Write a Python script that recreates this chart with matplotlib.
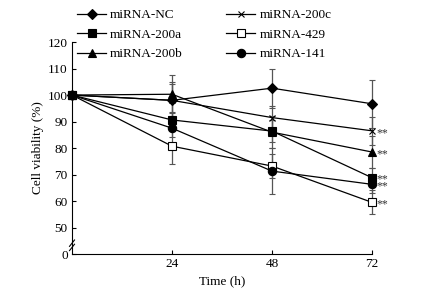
import numpy as np
import matplotlib
matplotlib.use("Agg")
import matplotlib.pyplot as plt
from matplotlib.lines import Line2D

plt.rcParams["font.family"] = ["Liberation Serif", "DejaVu Serif"]
plt.rcParams["font.size"] = 9.5

# time points (h)
time = [0, 24, 48, 72]

# mean cell viability (%) and error bars
nc     = [100, 98.0, 102.6, 96.7]
a200   = [100, 90.6, 86.4, 68.8]
b200   = [100, 100.3, 86.0, 78.5]
c200   = [100, 98.0, 91.5, 86.5]
m429   = [100, 80.7, 73.2, 59.5]
m141   = [100, 87.5, 71.3, 66.3]

nc_err   = [0, 7.0, 7.4, 9.0]
a200_err = [0, 3.0, 4.0, 3.5]
b200_err = [0, 7.1, 6.0, 6.0]
c200_err = [0, 6.0, 4.5, 5.3]
m429_err = [0, 6.6, 4.4, 4.5]
m141_err = [0, 3.5, 8.8, 3.2]

labels  = ["miRNA-NC", "miRNA-200a", "miRNA-200b", "miRNA-200c", "miRNA-429", "miRNA-141"]
series  = [nc, a200, b200, c200, m429, m141]
errs    = [nc_err, a200_err, b200_err, c200_err, m429_err, m141_err]
markers = ["D", "s", "^", "x", "s", "o"]
msizes  = [5.5, 5.5, 6, 4, 5.5, 6]
faces   = ["black", "black", "black", "black", "white", "black"]

# y ticks (axis is broken below 50)
yticks = [40, 50, 60, 70, 80, 90, 100, 110, 120]
ylabels = ["0", "50", "60", "70", "80", "90", "100", "110", "120"]
xticks = [24, 48, 72]

fig = plt.figure(figsize=(4.38, 2.92), dpi=100)
ax = fig.add_axes([0.1644, 0.130, 0.6849, 0.726])

handles = []
for i in range(len(series)):
    ax.errorbar(time, series[i], yerr=errs[i], color="black", ecolor="#555555",
                elinewidth=0.9, capsize=2, capthick=0.9, lw=0.9,
                marker=markers[i], markersize=msizes[i], markerfacecolor=faces[i],
                markeredgecolor="black", markeredgewidth=0.8,
                clip_on=False, zorder=3)
    handles.append(Line2D([], [], color="black", lw=0.9, marker=markers[i],
                          markersize=msizes[i], markerfacecolor=faces[i],
                          markeredgecolor="black", markeredgewidth=0.8, label=labels[i]))

# significance marks at 72 h (200a and 141 sit so close they share one text)
star_kw = dict(textcoords="offset points", fontsize=8.5, color="#333333",
               va="center", ha="left", annotation_clip=False)
for s in [c200, b200, m429]:
    ax.annotate("**", (time[-1], s[-1]), xytext=(3, -1.5), **star_kw)
ax.annotate("**\n**", (time[-1], (a200[-1] + m141[-1]) / 2), xytext=(3, -1.5),
            linespacing=0.45, **star_kw)

ax.set_xlim(0, 72)
ax.set_ylim(40, 120)
ax.set_xticks(xticks)
ax.set_yticks(yticks)
ax.set_yticklabels(ylabels)
ax.tick_params(direction="in", length=3, width=0.8, pad=3)
ax.spines["top"].set_visible(False)
ax.spines["right"].set_visible(False)
ax.spines["left"].set_linewidth(0.8)
ax.spines["bottom"].set_linewidth(0.8)

# axis break marks
for dy in [-1.0, 0.6]:
    ax.plot([-0.6, 0.6], [43.5 + dy - 1.2, 43.5 + dy + 1.2], color="black",
            lw=0.8, clip_on=False)

ax.set_xlabel("Time (h)", labelpad=4)
ax.set_ylabel("Cell viability (%)", labelpad=3)

fig.legend(handles=handles, loc="upper left", bbox_to_anchor=(0.155, 1.0), ncol=2,
           frameon=False, handlelength=2.2, columnspacing=3.3, labelspacing=0.55,
           handletextpad=0.3, borderaxespad=0.3)

plt.savefig("out.png", dpi=100)
